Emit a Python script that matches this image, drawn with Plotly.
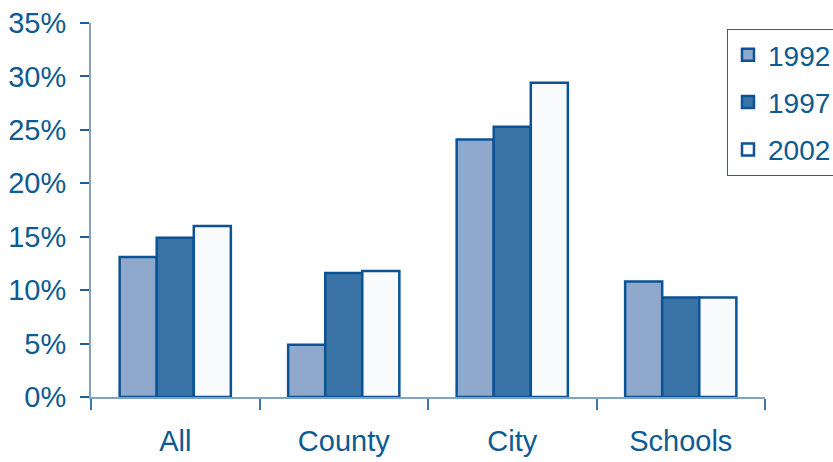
import plotly.graph_objects as go

categories = ["All", "County", "City", "Schools"]
years = ["1992", "1997", "2002"]
v1992 = [13.1, 4.9, 24.1, 10.8]
v1997 = [14.9, 11.6, 25.3, 9.3]
v2002 = [16.0, 11.8, 29.4, 9.3]
tick_vals = [0, 5, 10, 15, 20, 25, 30, 35]
tick_text = [f"{v}%" for v in tick_vals]

fills = ["#8FA8CB", "#3A74A6", "#F8FAFC"]
outline = "#0B5394"
text_col = "#0E5A92"
axis_col = "#7FA3C0"

fig = go.Figure()
for name, vals, col in zip(years, [v1992, v1997, v2002], fills):
    fig.add_trace(go.Bar(
        x=categories, y=vals, name=name, legendgroup=name,
        marker=dict(color=col, line=dict(color=outline, width=2.5)),
    ))

font = "Liberation Sans, Arial, sans-serif"
fig.update_layout(
    width=833, height=462,
    margin=dict(l=91, r=68, t=23, b=65, autoexpand=False),
    paper_bgcolor="white", plot_bgcolor="white",
    barmode="group", bargap=0.34, bargroupgap=0,
    font=dict(family=font, size=29, color=text_col),
    showlegend=True,
    legend=dict(
        x=0.9436, y=0.984, xanchor="left", yanchor="top",
        bordercolor="#2C5E8E", borderwidth=1, bgcolor="white",
        font=dict(family=font, size=28, color=text_col),
        tracegroupgap=8, traceorder="grouped",
    ),
    xaxis=dict(
        showline=True, linecolor=axis_col, linewidth=2,
        ticks="outside", tickson="boundaries", ticklen=11,
        tickcolor="#3F78A8", tickwidth=1.5,
        showgrid=False, zeroline=False, ticklabelstandoff=17,
        ticklabeloverflow="allow",
        tickfont=dict(family=font, size=29, color=text_col),
    ),
    yaxis=dict(
        range=[0, 35], tickvals=tick_vals, ticktext=tick_text,
        showline=True, linecolor=axis_col, linewidth=2,
        ticks="outside", ticklen=9, tickcolor="#1F5F95", tickwidth=1.5,
        showgrid=False, zeroline=False, ticklabelstandoff=8,
        ticklabeloverflow="allow",
        tickfont=dict(family=font, size=29, color=text_col),
    ),
)

fig.write_html("out.html", config={"displayModeBar": False},
               post_script="document.body.style.margin='0';")
